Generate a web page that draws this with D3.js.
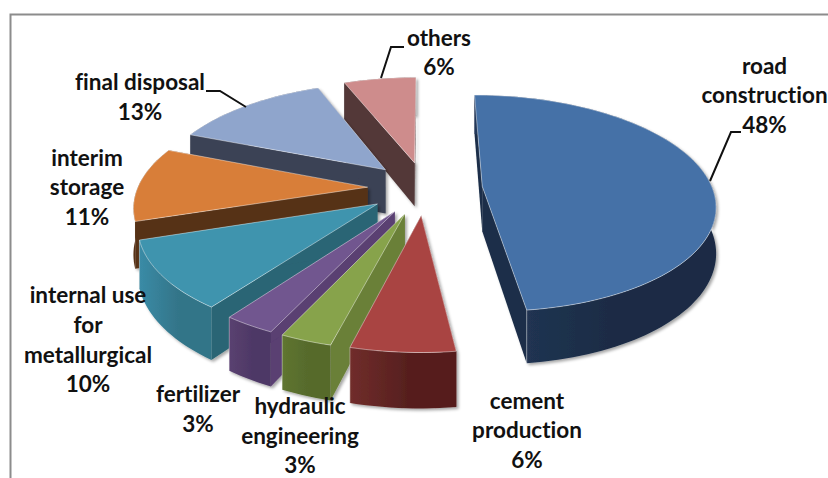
<!DOCTYPE html>
<html>
<head>
<meta charset="utf-8">
<script src="https://cdn.jsdelivr.net/npm/d3@7"></script>
<style>
    html, body { margin: 0; padding: 0; background: #fff; }
    svg { display: block; }
    text { font-family: Lato, "Open Sans", sans-serif; font-weight: 700; font-size: 22.5px; fill: #111; font-variant-ligatures: none; }
</style>
</head>
<body>
<div id="chart"></div>
<script>
// clockwise from 12 o'clock
const categories = ["road construction", "cement production", "hydraulic engineering", "fertilizer",
    "internal use for metallurgical", "interim storage", "final disposal", "others"];
const values = [48, 6, 3, 3, 10, 11, 13, 6];

const topColors = ["#4571a7", "#a94442", "#87a34b", "#71568f", "#3f94ae", "#d87e39", "#8fa5cc", "#ce8c8c"];
const cutColors = ["#1b2e48", "#5f2423", "#6b8038", "#5a3f72", "#2a6574", "#573318", "#3b4254", "#523838"];
const wallStart = ["#24395a", "#702d2b", "#5f7530", "#5a4170", "#3a8ba6", "#573318", "#3b4254", "#523838"];
const wallEnd = ["#1a2c45", "#561f1e", "#566a2c", "#4e3866", "#337488", "#573318", "#3b4254", "#523838"];

// label lines and where they sit, kept apart from the values
const labelLayout = [
    {lines: ["road", "construction"], x: 764.5, y: [74, 103, 133], leader: [[710, 181], [731, 132], [741, 132]]},
    {lines: ["cement", "production"], x: 527, y: [409, 438, 468]},
    {lines: ["hydraulic", "engineering"], x: 300, y: [414, 444, 473]},
    {lines: ["fertilizer"], x: 198, y: [402, 432]},
    {lines: ["internal use", "for", "metallurgical"], x: 88, y: [303, 333, 363, 392]},
    {lines: ["interim", "storage"], x: 87, y: [166, 195, 225]},
    {lines: ["final disposal"], x: 140, y: [90, 120], leader: [[246, 107], [220, 91], [206, 91]]},
    {lines: ["others"], x: 439, y: [46, 75], leader: [[381, 78], [391, 47], [404, 47]]}
];

const width = 828;
const height = 478;

// projection of the tilted pie: unit circle on the table, perspective towards the viewer
const cx = 425, cy = 188;
const radiusX = 230, radiusY = 106;
const perspective = 0.156;
const depth = 45;
const explode = 0.25;

function project(x, y, low) {
    const s = 1 / (1 + perspective * y);
    return [cx + radiusX * x * s, cy - radiusY * y * s + (low ? depth * s : 0)];
}

const svg = d3.select("#chart").append("svg")
        .attr("width", width)
        .attr("height", height);

const defs = svg.append("defs");

const shadow = defs.append("filter")
        .attr("id", "shadow")
        .attr("x", "-10%").attr("y", "-10%")
        .attr("width", "125%").attr("height", "125%");
shadow.append("feDropShadow")
        .attr("dx", 2)
        .attr("dy", 2)
        .attr("stdDeviation", 1.5)
        .attr("flood-color", "#000")
        .attr("flood-opacity", 0.35);

// chart area frame, only its top and left edges are in the picture
svg.append("path")
        .attr("d", d3.line()([[10.5, height], [10.5, 14.5], [width, 14.5]]))
        .attr("fill", "none")
        .attr("stroke", "#8c8c8c")
        .attr("stroke-width", 2);

const pie = d3.pie().sort(null).value(d => d)(values);

const slices = pie.map((p, i) => {
    const mid = (p.startAngle + p.endAngle) / 2;
    const ox = explode * Math.sin(mid);
    const oy = explode * Math.cos(mid);
    const steps = Math.max(4, Math.ceil((p.endAngle - p.startAngle) / 0.03));
    const rim = d3.range(steps + 1).map(k => {
        const a = p.startAngle + (p.endAngle - p.startAngle) * k / steps;
        return [ox + Math.sin(a), oy + Math.cos(a)];
    });
    return {i, ox, oy, rim};
});

const line = d3.line();
const order = slices.slice().sort((a, b) => d3.descending(a.oy, b.oy));

function makeWallGradient(d) {
    const grad = defs.append("linearGradient")
            .attr("id", "wall" + d.i)
            .attr("x1", 0).attr("x2", 1)
            .attr("y1", 0).attr("y2", 0);
    grad.append("stop").attr("offset", "0%").attr("stop-color", wallStart[d.i]);
    grad.append("stop").attr("offset", "55%").attr("stop-color", wallEnd[d.i]);
}

order.forEach(d => {
    makeWallGradient(d);
    const g = svg.append("g").attr("class", "slice");
    const apex = [d.ox, d.oy];
    const first = d.rim[0];
    const last = d.rim[d.rim.length - 1];

    const body = g.append("g").attr("filter", "url(#shadow)");

    [first, last].forEach(end => {
        const face = [project(apex[0], apex[1]), project(end[0], end[1]),
            project(end[0], end[1], true), project(apex[0], apex[1], true)];
        body.append("path")
                .attr("d", line(face) + "Z")
                .attr("fill", cutColors[d.i]);
    });

    const upper = d.rim.map(r => project(r[0], r[1]));
    const lower = d.rim.map(r => project(r[0], r[1], true)).reverse();
    body.append("path")
            .attr("d", line(upper.concat(lower)) + "Z")
            .attr("fill", `url(#wall${d.i})`);

    // pale edge where the side meets the top
    const corner = project(last[0], last[1]);
    g.append("path")
            .attr("d", line([corner, project(last[0], last[1], true)]))
            .attr("fill", "none")
            .attr("stroke", "#fff")
            .attr("stroke-opacity", 0.5)
            .attr("stroke-width", 0.8);

    g.append("path")
            .attr("d", line([project(apex[0], apex[1])].concat(upper)) + "Z")
            .attr("fill", topColors[d.i])
            .attr("stroke", "#fff")
            .attr("stroke-opacity", 0.55)
            .attr("stroke-width", 0.8)
            .attr("stroke-linejoin", "round");
});

const labels = svg.selectAll(".label")
        .data(labelLayout)
        .enter().append("g")
        .attr("class", "label")
        .attr("data-category", (d, i) => categories[i]);

labels.filter(d => d.leader).append("path")
        .attr("d", d => line(d.leader))
        .attr("fill", "none")
        .attr("stroke", "#111")
        .attr("stroke-width", 2);

labels.each(function (d, i) {
    const rows = d.lines.concat([values[i] + "%"]);
    d3.select(this).selectAll("text")
            .data(rows)
            .enter().append("text")
            .attr("x", d.x)
            .attr("y", (r, k) => d.y[k])
            .attr("text-anchor", "middle")
            .text(r => r);
});
</script>
</body>
</html>
